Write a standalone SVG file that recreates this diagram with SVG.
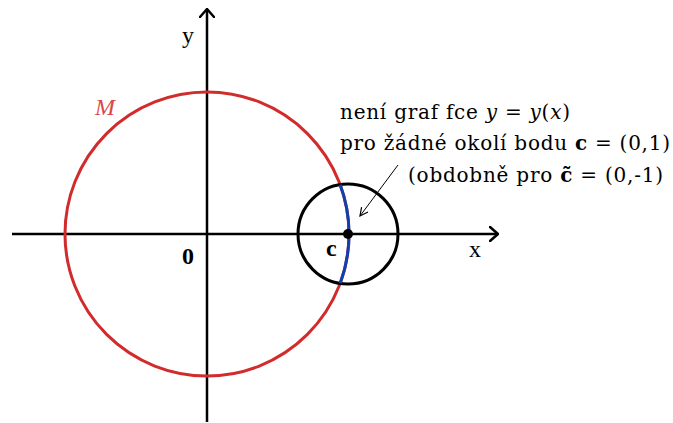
<svg xmlns="http://www.w3.org/2000/svg" width="673" height="423" viewBox="0 0 673 423">
<defs>
<style>
text{font-family:"Liberation Serif","DejaVu Serif",serif;fill:#000}
.lbl{font-size:24px}
.t{font-size:20px;font-family:"DejaVu Serif","Liberation Serif",serif}
.b{font-weight:bold}
.i{font-style:italic}
.ax{stroke:#000;stroke-width:2.5;fill:none}
</style>
<marker id="ah" viewBox="0 0 10 10" refX="9" refY="5" markerWidth="10" markerHeight="10" markerUnits="userSpaceOnUse" orient="auto">
<path d="M1,1 L9,5 L1,9" fill="none" stroke="#000" stroke-width="1.2"/>
</marker>
<marker id="axh" viewBox="0 0 10 16" refX="9" refY="8" markerWidth="10" markerHeight="16" markerUnits="userSpaceOnUse" orient="auto">
<path d="M1,1 L9,8 L1,15" fill="none" stroke="#000" stroke-width="2.5" stroke-linecap="round" stroke-linejoin="round"/>
</marker>
</defs>
<g id="axes">
<line class="ax" x1="12" y1="234" x2="498" y2="234" marker-end="url(#axh)"/>
<line class="ax" x1="207" y1="422" x2="207" y2="9" marker-end="url(#axh)"/>
<text class="lbl" x="469" y="257">x</text>
<text class="lbl" x="182" y="43">y</text>
<text class="lbl b" x="182" y="264">0</text>
</g>
<g id="circle-M">
<circle cx="207" cy="234" r="142" fill="none" stroke="#d22b2b" stroke-width="3"/>
<text class="lbl i" x="95" y="115" style="fill:#d84a4a">M</text>
</g>
<g id="neighborhood">
<circle cx="348" cy="234" r="50" fill="none" stroke="#000" stroke-width="3"/>
<path d="M340.2,184.7 A142,142 0 0 1 340.2,283.3" fill="none" stroke="#1040b0" stroke-width="3"/>
</g>
<g id="point-c">
<circle cx="348" cy="234" r="5" fill="#000"/>
<text class="lbl b" x="326" y="256">c</text>
</g>
<g id="note">
<text class="t" x="340" y="119" textLength="230" lengthAdjust="spacing">není graf fce <tspan class="i">y</tspan> = <tspan class="i">y</tspan>(<tspan class="i">x</tspan>)</text>
<text class="t" x="340" y="150" textLength="330" lengthAdjust="spacing">pro žádné okolí bodu <tspan class="b">c</tspan> = (0,1)</text>
<text class="t" x="408" y="182" textLength="255" lengthAdjust="spacing">(obdobně pro <tspan class="b">c̃</tspan> = (0,-1)</text>
</g>
<g id="connectors">
<line x1="398" y1="165" x2="360" y2="216" stroke="#000" stroke-width="1" marker-end="url(#ah)"/>
</g>
</svg>
